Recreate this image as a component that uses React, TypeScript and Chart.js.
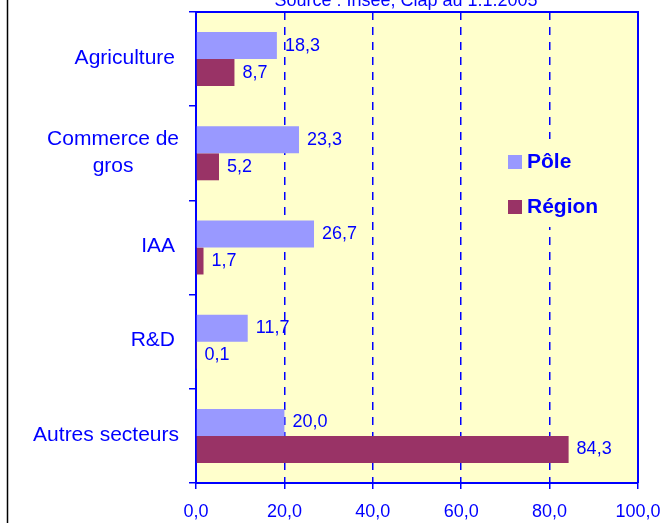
import React, { useEffect, useRef } from "react";
import { Chart, registerables } from "chart.js";

Chart.register(...registerables);

const categories: string[][] = [
  ["Agriculture"],
  ["Commerce de", "gros"],
  ["IAA"],
  ["R&D"],
  ["Autres secteurs"],
];
const poleValues = [18.3, 23.3, 26.7, 11.7, 20.0];
const regionValues = [8.7, 5.2, 1.7, 0.1, 84.3];
const seriesNames = ["Pôle", "Région"];
const titleText = "Source : Insee, Clap au 1.1.2005";
const xMin = 0;
const xMax = 100;
const xStep = 20;

const FONT = '"Liberation Sans", Arial, Helvetica, sans-serif';
const BLUE = "#0000FF";
const POLE_COLOR = "#9999FF";
const REGION_COLOR = "#993366";
const PLOT_BG = "#FFFFCC";

const fmt = (v: number) => v.toFixed(1).replace(".", ",");

const decorPlugin = {
  id: "decor",
  beforeDraw(chart: any) {
    const { ctx, chartArea } = chart;
    ctx.save();
    ctx.fillStyle = PLOT_BG;
    ctx.fillRect(chartArea.left, chartArea.top, chartArea.right - chartArea.left, chartArea.bottom - chartArea.top);
    ctx.restore();
  },
  afterDraw(chart: any) {
    const { ctx, chartArea } = chart;
    ctx.save();
    // plot border (top and right)
    ctx.strokeStyle = BLUE;
    ctx.lineWidth = 2;
    ctx.setLineDash([]);
    ctx.beginPath();
    ctx.moveTo(chartArea.left, chartArea.top);
    ctx.lineTo(chartArea.right, chartArea.top);
    ctx.lineTo(chartArea.right, chartArea.bottom);
    ctx.stroke();

    // outer frame left edge
    ctx.strokeStyle = "#000000";
    ctx.lineWidth = 1.5;
    ctx.beginPath();
    ctx.moveTo(7.5, 0);
    ctx.lineTo(7.5, chart.height);
    ctx.stroke();

    // title
    ctx.fillStyle = BLUE;
    ctx.font = `18px ${FONT}`;
    ctx.textAlign = "center";
    ctx.textBaseline = "alphabetic";
    ctx.fillText(titleText, 406, 6);

    // category labels
    const yScale = chart.scales.y;
    ctx.font = `21px ${FONT}`;
    ctx.textBaseline = "middle";
    categories.forEach((lines, i) => {
      const yc = yScale.getPixelForValue(i);
      const lh = 27;
      const widths = lines.map((l) => ctx.measureText(l).width);
      const maxW = Math.max(...widths);
      const right = lines.length > 1 || maxW > 120 ? 179 : 175;
      const cx = right - maxW / 2;
      ctx.textAlign = "center";
      lines.forEach((l, k) => {
        const y = yc - ((lines.length - 1) * lh) / 2 + k * lh - 1;
        ctx.fillText(l, cx, y);
      });
    });

    // legend
    ctx.fillStyle = PLOT_BG;
    ctx.fillRect(498, 139, 125, 88);
    const items = [
      { name: seriesNames[0], color: POLE_COLOR, y: 162 },
      { name: seriesNames[1], color: REGION_COLOR, y: 207 },
    ];
    ctx.font = `bold 21px ${FONT}`;
    ctx.textAlign = "left";
    ctx.textBaseline = "middle";
    items.forEach((it) => {
      ctx.fillStyle = it.color;
      ctx.fillRect(508, it.y - 7, 14, 14);
      ctx.fillStyle = BLUE;
      ctx.fillText(it.name, 527, it.y);
    });
    ctx.restore();
  },
  afterDatasetsDraw(chart: any) {
    const { ctx } = chart;
    ctx.save();
    ctx.fillStyle = BLUE;
    ctx.font = `18px ${FONT}`;
    ctx.textAlign = "left";
    ctx.textBaseline = "middle";
    chart.data.datasets.forEach((ds: any, di: number) => {
      const meta = chart.getDatasetMeta(di);
      meta.data.forEach((bar: any, i: number) => {
        ctx.fillText(fmt(ds.data[i]), bar.x + 8, bar.y);
      });
    });
    ctx.restore();
  },
};

export default function App() {
  const ref = useRef<HTMLCanvasElement | null>(null);
  useEffect(() => {
    if (!ref.current) return;
    const chart = new Chart(ref.current, {
      type: "bar",
      data: {
        labels: categories.map((c) => c.join(" ")),
        datasets: [
          {
            label: seriesNames[0],
            data: poleValues,
            backgroundColor: POLE_COLOR,
            categoryPercentage: 0.573,
            barPercentage: 1,
          },
          {
            label: seriesNames[1],
            data: regionValues,
            backgroundColor: REGION_COLOR,
            categoryPercentage: 0.573,
            barPercentage: 1,
          },
        ],
      },
      options: {
        indexAxis: "y",
        responsive: false,
        animation: false,
        layout: { padding: { top: 12, right: 26, bottom: 0, left: 0 } },
        plugins: {
          legend: { display: false },
          tooltip: { enabled: false },
          title: { display: false },
        },
        scales: {
          x: {
            type: "linear",
            min: xMin,
            max: xMax,
            ticks: {
              stepSize: xStep,
              color: BLUE,
              font: { family: FONT, size: 18 },
              padding: 12,
              callback: (v: any) => fmt(Number(v)),
            },
            grid: {
              color: (c: any) =>
                c.tick && (c.tick.value === xMin || c.tick.value === xMax) ? "rgba(0,0,0,0)" : BLUE,
              lineWidth: 1.5,
              tickColor: BLUE,
              tickBorderDash: [1, 0],
              tickLength: 6,
            },
            border: { color: BLUE, width: 2, dash: [8, 7] },
            afterFit: (s: any) => {
              s.height = 40;
              s.paddingLeft = 0;
              s.paddingRight = 0;
            },
          },
          y: {
            type: "category",
            offset: true,
            ticks: { display: false },
            grid: {
              offset: true,
              drawOnChartArea: false,
              tickLength: 7,
              tickColor: BLUE,
              lineWidth: 1.5,
            },
            border: { color: BLUE, width: 2 },
            afterFit: (s: any) => {
              s.width = 196;
              s.paddingTop = 0;
              s.paddingBottom = 0;
            },
          },
        },
      },
      plugins: [decorPlugin],
    } as any);
    return () => chart.destroy();
  }, []);
  return (
    <div style={{ position: "absolute", left: 0, top: 0, width: 664, height: 523, background: "#fff" }}>
      <canvas ref={ref} width={664} height={523} />
    </div>
  );
}
